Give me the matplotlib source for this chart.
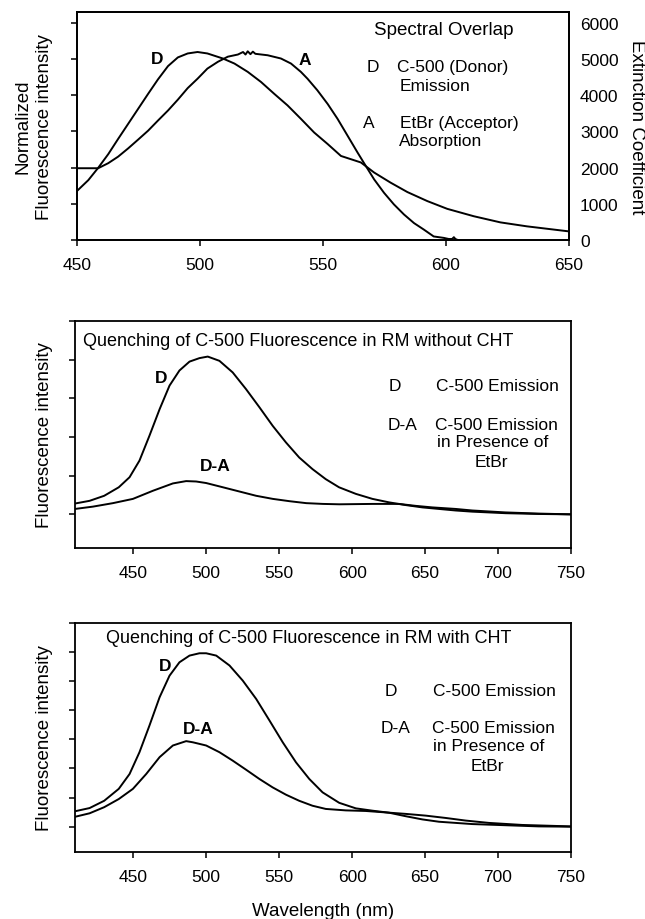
import matplotlib
matplotlib.use('Agg')
import matplotlib.pyplot as plt

plt.rcParams['font.family'] = ['Liberation Sans', 'DejaVu Sans']

# --- panel 1: spectral overlap (right axis: extinction coefficient) ---
wl_donor = [450, 454.6, 458.6, 462.7, 466.7, 470.8, 474.8, 478.9, 482.9, 487,
            491, 495, 499, 503, 509.3, 514, 519.4, 524.8, 530.2, 535.6, 541,
            546.4, 551.9, 557.3, 565.4, 570.8, 577.5, 584.3, 592.4, 600.5,
            611.3, 622.1, 632.9, 650]
donor_em = [1350, 1650, 1990, 2370, 2790, 3210, 3620, 4040, 4440, 4810, 5050,
            5160, 5200, 5160, 5020, 4880, 4650, 4370, 4040, 3720, 3350, 2970,
            2650, 2320, 2140, 1860, 1580, 1320, 1070, 855, 650, 480, 370, 230]
wl_acc = [450, 458.6, 462.7, 466.7, 470.8, 474.8, 478.9, 482.9, 487, 491, 495,
          499, 503, 507.3, 511.3, 515.4, 517.5, 518.5, 519.4, 520.5, 521.5,
          522.5, 527.5, 532.9, 537, 541, 543.7, 547.7, 551.9, 555.9, 560, 564,
          566.7, 570.8, 574.8, 578.8, 582.9, 587, 591, 595, 599.1, 601.1,
          602.5, 603.2, 603.8, 604.5]
acc_abs = [1980, 1980, 2120, 2300, 2530, 2770, 3020, 3300, 3580, 3880, 4200,
           4460, 4740, 4930, 5070, 5130, 5200, 5130, 5220, 5140, 5210, 5150,
           5110, 5020, 4880, 4650, 4460, 4140, 3760, 3350, 2880, 2420, 2120,
           1670, 1300, 980, 700, 460, 280, 90, 50, 20, 20, 70, 20, 0]

# --- panel 2: RM without CHT ---
wl2_d = [410, 420, 430, 440, 447.4, 454.2, 461, 468, 474.8, 481.6, 488.5,
         495.3, 501, 509, 518.1, 527.2, 536.4, 545.5, 554.6, 563.7, 572.8,
         581.9, 591, 602.5, 613.9, 625.3, 636.7, 648.1, 659.5, 670.9, 682.3,
         705.1, 727.9, 750]
d2 = [0.28, 0.35, 0.48, 0.70, 0.96, 1.39, 2.03, 2.72, 3.33, 3.72, 3.95, 4.04,
      4.08, 3.97, 3.67, 3.24, 2.77, 2.29, 1.86, 1.47, 1.17, 0.91, 0.70, 0.53,
      0.40, 0.31, 0.24, 0.18, 0.14, 0.10, 0.07, 0.03, 0.01, 0.0]
wl2_da = [410, 422.3, 436, 449.7, 463.4, 477.1, 486.2, 493, 499.9, 511.4,
          522.8, 534.2, 545.6, 557.1, 568.5, 579.9, 591.3, 614.1, 632.1,
          643.5, 654.9, 670.9, 682.3, 705.1, 727.9, 750]
da2 = [0.14, 0.20, 0.29, 0.40, 0.61, 0.80, 0.86, 0.85, 0.81, 0.70, 0.59, 0.48,
       0.40, 0.34, 0.29, 0.27, 0.26, 0.27, 0.27, 0.22, 0.18, 0.14, 0.10, 0.05,
       0.02, 0.0]

# --- panel 3: RM with CHT ---
wl3_d = [410, 420, 430, 440, 447.4, 454.2, 461, 468, 474.8, 481.6, 488.5,
         495.3, 499.9, 506.8, 515.9, 525, 534.2, 543.3, 552.4, 561.5, 570.6,
         579.7, 591.1, 602.5, 613.9, 625.3, 636.7, 648.1, 659.5, 682.3, 705.1,
         727.9, 750]
d3 = [0.53, 0.64, 0.89, 1.30, 1.81, 2.56, 3.47, 4.45, 5.19, 5.65, 5.88, 5.96,
      5.96, 5.88, 5.54, 5.02, 4.39, 3.65, 2.90, 2.21, 1.64, 1.18, 0.82, 0.63,
      0.55, 0.48, 0.36, 0.25, 0.17, 0.09, 0.05, 0.01, 0.0]
wl3_da = [410, 420, 430, 440, 449.7, 458.8, 468, 477.1, 486.2, 490.8, 499.9,
          509, 518.1, 527.2, 536.4, 545.5, 554.6, 563.7, 572.8, 581.9, 595.6,
          609.3, 623, 636.7, 650.4, 664.1, 677.8, 693.7, 716.5, 750]
da3 = [0.34, 0.46, 0.67, 0.95, 1.30, 1.81, 2.39, 2.79, 2.94, 2.90, 2.79, 2.56,
       2.27, 1.96, 1.64, 1.35, 1.10, 0.89, 0.72, 0.61, 0.56, 0.54, 0.49, 0.44,
       0.38, 0.30, 0.21, 0.13, 0.06, 0.01]

FS = 12
LW = 1.4

fig = plt.figure(figsize=(6.45, 9.2), dpi=100)


def style(ax):
    for s in ax.spines.values():
        s.set_linewidth(1.3)
    ax.tick_params(axis='both', direction='out', width=1.1, length=4,
                   labelsize=FS + 0.5)
    ax.tick_params(axis='x', pad=8.5)


# panel 1
ax1 = fig.add_axes([77/645, 1-240.7/920, 492/645, 227.4/920])
ax1.plot(wl_donor, donor_em, color='k', lw=LW)
ax1.plot(wl_acc, acc_abs, color='k', lw=LW)
ax1.set_xlim(450, 650)
ax1.set_ylim(0, 6300)
ax1.set_xticks([450, 500, 550, 600, 650])
ax1.set_yticks(range(0, 7000, 1000))
style(ax1)
ax1.tick_params(axis='y', labelleft=False)
ax1.set_ylabel('Normalized\nFluorescence intensity', fontsize=FS + 1.5,
               linespacing=1.4, labelpad=13)
axr = ax1.twinx()
axr.set_ylim(0, 6300)
axr.set_yticks(range(0, 7000, 1000))
axr.tick_params(axis='y', length=0, labelsize=FS + 0.5, pad=8)
axr.set_ylabel('Extinction Coefficient', fontsize=FS + 1.5, rotation=270,
               labelpad=19)
for s in axr.spines.values():
    s.set_linewidth(1.3)

ax1.text(482.4, 5020, 'D', fontsize=FS + 0.5, fontweight='bold', ha='center',
         va='center')
ax1.text(542.7, 4990, 'A', fontsize=FS + 0.5, fontweight='bold', ha='center',
         va='center')
ax1.text(0.7445, 0.923, 'Spectral Overlap', transform=ax1.transAxes,
         fontsize=FS + 1.5, ha='center', va='center')
ax1.text(0.588, 0.7625, 'D', transform=ax1.transAxes, fontsize=FS + 0.5,
         va='center')
ax1.text(0.650, 0.7625, 'C-500 (Donor)', transform=ax1.transAxes,
         fontsize=FS + 0.5, va='center')
ax1.text(0.656, 0.68, 'Emission', transform=ax1.transAxes, fontsize=FS + 0.5,
         va='center')
ax1.text(0.581, 0.516, 'A', transform=ax1.transAxes, fontsize=FS + 0.5,
         va='center')
ax1.text(0.6565, 0.516, 'EtBr (Acceptor)', transform=ax1.transAxes,
         fontsize=FS + 0.5, va='center')
ax1.text(0.654, 0.435, 'Absorption', transform=ax1.transAxes,
         fontsize=FS + 0.5, va='center')


def quench_panel(rect, top, wl_d, d, wl_da, da, title, title_pos, lab_d,
                 lab_da, leg):
    ax = fig.add_axes(rect)
    ax.plot(wl_d, d, color='k', lw=LW)
    ax.plot(wl_da, da, color='k', lw=LW)
    ax.set_xlim(410, 750)
    ax.set_ylim(-0.87, top)
    ax.set_xticks(range(450, 800, 50))
    ax.set_yticks(range(0, top + 1))
    style(ax)
    ax.tick_params(axis='y', labelleft=False)
    ax.set_ylabel('Fluorescence intensity', fontsize=FS + 1.5, labelpad=12)
    ax.text(title_pos[0], title_pos[1], title, transform=ax.transAxes,
            fontsize=FS + 1, va='center')
    ax.text(lab_d[0], lab_d[1], 'D', fontsize=FS + 0.5, fontweight='bold',
            ha='center', va='center')
    ax.text(lab_da[0], lab_da[1], 'D-A', fontsize=FS + 0.5, fontweight='bold',
            ha='center', va='center')
    (dx, dy), (cx1, cx2), (dax, day), (pcx, py), (ecx, ey) = leg
    ax.text(dx, dy, 'D', transform=ax.transAxes, fontsize=FS + 0.5,
            va='center')
    ax.text(cx1, dy, 'C-500 Emission', transform=ax.transAxes,
            fontsize=FS + 0.5, va='center')
    ax.text(dax, day, 'D-A', transform=ax.transAxes, fontsize=FS + 0.5,
            va='center')
    ax.text(cx2, day, 'C-500 Emission', transform=ax.transAxes,
            fontsize=FS + 0.5, va='center')
    ax.text(pcx, py, 'in Presence of', transform=ax.transAxes,
            fontsize=FS + 0.5, ha='center', va='center')
    ax.text(ecx, ey, 'EtBr', transform=ax.transAxes, fontsize=FS + 0.5,
            ha='center', va='center')
    return ax


ax2 = quench_panel([75/645, 1-549/920, 496/645, 227/920], 5, wl2_d, d2,
                   wl2_da, da2,
                   'Quenching of C-500 Fluorescence in RM without CHT',
                   (0.016, 0.913), (469.2, 3.54), (506.4, 1.26),
                   ((0.633, 0.714), (0.728, 0.725), (0.631, 0.546),
                    (0.843, 0.467), (0.839, 0.383)))
ax3 = quench_panel([75/645, 1-853/920, 496/645, 229/920], 7, wl3_d, d3,
                   wl3_da, da3,
                   'Quenching of C-500 Fluorescence in RM with CHT',
                   (0.063, 0.936), (471.5, 5.54), (494.3, 3.36),
                   ((0.625, 0.707), (0.722, 0.720), (0.617, 0.543),
                    (0.835, 0.463), (0.831, 0.376)))
ax3.set_xlabel('Wavelength (nm)', fontsize=FS + 1.5, labelpad=13)

fig.savefig('out.png', dpi=100)
